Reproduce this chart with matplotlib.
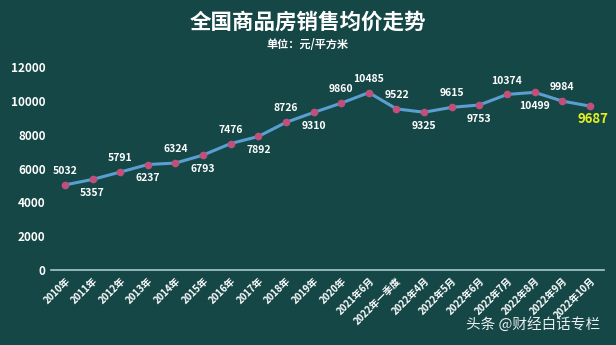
import matplotlib
matplotlib.use("Agg")
import matplotlib.pyplot as plt

plt.rcParams['font.family'] = ['Noto Sans CJK SC', 'DejaVu Sans']

categories = ["2010年", "2011年", "2012年", "2013年", "2014年", "2015年", "2016年",
              "2017年", "2018年", "2019年", "2020年", "2021年6月", "2022年一季度",
              "2022年4月", "2022年5月", "2022年6月", "2022年7月", "2022年8月",
              "2022年9月", "2022年10月"]
prices = [5032, 5357, 5791, 6237, 6324, 6793, 7476, 7892, 8726, 9310, 9860,
          10485, 9522, 9325, 9615, 9753, 10374, 10499, 9984, 9687]
# label above (1) or below (-1) the point
label_side = [1, -1, 1, -1, 1, -1, 1, -1, 1, -1, 1, 1, 1, -1, 1, -1, 1, -1, 1, -1]

bg = "#164747"
fig = plt.figure(figsize=(6.16, 3.45), dpi=100, facecolor=bg)
ax = fig.add_axes([0.083, 0.217, 0.897, 0.589], facecolor=bg)

x = list(range(len(prices)))
ax.plot(x, prices, color="#5a9fd0", lw=2.2, marker="o", ms=4.5,
        markerfacecolor="#c0507a", markeredgecolor="#c0507a", zorder=3)

for i, (v, s) in enumerate(zip(prices, label_side)):
    if i == len(prices) - 1:
        ax.annotate(str(v), (i, v), xytext=(2, -9.5), textcoords="offset points",
                    ha="center", va="center", color="#e6f020", fontsize=9.5,
                    fontweight="bold")
    else:
        ax.annotate(str(v), (i, v), xytext=(0, 10 * s), textcoords="offset points",
                    ha="center", va="center", color="white", fontsize=7.5,
                    fontweight="bold")

ax.set_xlim(-0.5, len(prices) - 0.5)
ax.set_ylim(0, 12000)
ax.set_yticks(range(0, 12001, 2000))
ax.set_xticks(x)
ax.set_xticklabels(categories, rotation=45, ha="right", rotation_mode="anchor",
                   color="white", fontsize=7, fontweight="bold")
for t in ax.get_yticklabels():
    t.set_color("white")
    t.set_fontweight("bold")
    t.set_fontsize(8.5)
ax.tick_params(length=0, pad=4)
for side in ["top", "right", "left"]:
    ax.spines[side].set_visible(False)
ax.spines["bottom"].set_color("#a8c8c8")
ax.spines["bottom"].set_linewidth(1.2)

fig.text(0.5, 0.935, "全国商品房销售均价走势", ha="center", va="center",
         color="white", fontsize=15.5, fontweight="bold")
fig.text(0.5, 0.872, "单位：元/平方米", ha="center", va="center",
         color="white", fontsize=8, fontweight="bold")
fig.text(0.975, 0.06, "头条 @财经白话专栏", ha="right", va="center",
         color="#e8eeee", fontsize=10.5)

fig.savefig("out.png", dpi=100, facecolor=bg)
